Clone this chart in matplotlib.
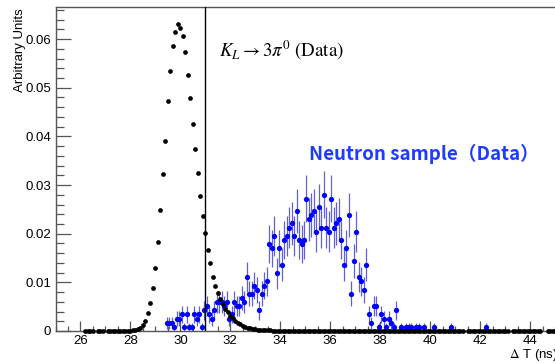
import numpy as np
import matplotlib
matplotlib.use("Agg")
import matplotlib.pyplot as plt
from matplotlib.ticker import MultipleLocator, FixedLocator

# K_L -> 3pi0 data, bin centres every 0.1 ns starting at 26.2 (nan = empty bin, not drawn)
nan = np.nan
black_start = 26.2
black_y = [
    0, 0, 0, 0, nan, 0, 0, 0,                                                        # 26.2-26.9
    nan, 0, 0, 0, 0, 0, 0, 0, 0, 0,                                                  # 27
    0, 0.0001, 0.0002, 0.0004, 0.0007, 0.0012, 0.0021, 0.0037, 0.0058, 0.0088,       # 28
    0.0130, 0.0183, 0.0248, 0.0322, 0.0391, 0.0472, 0.0534, 0.0585, 0.0615, 0.0632,  # 29
    0.0623, 0.0606, 0.0573, 0.0526, 0.0478, 0.0426, 0.0375, 0.0325, 0.0277, 0.0236,  # 30
    0.0201, 0.0167, 0.0139, 0.0112, 0.0092, 0.0079, 0.0065, 0.0055, 0.0046, 0.0038,  # 31
    0.0031, 0.0026, 0.0021, 0.0017, 0.0014, 0.0011, 0.0009, 0.0007, 0.0006, 0.0005,  # 32
    0.0004, 0.0003, 0.0003, 0.0002, 0.0002, 0.0001, 0.0001, 0, 0, 0,                 # 33
    0, 0, 0, 0, 0, 0, 0, 0, 0, 0,                                                    # 34
    0, 0, 0, 0, 0, 0, 0, 0, 0, 0,                                                    # 35
    0, 0, 0, 0, 0, 0, 0, 0, 0, 0,                                                    # 36
    0, 0, 0, 0, 0, 0, 0, 0, 0, 0,                                                    # 37
    0, 0, 0, 0, 0, 0, 0, 0, 0, 0,                                                    # 38
    0, 0, 0, 0, 0, 0, 0, 0, 0, 0,                                                    # 39
    0, 0, 0, 0, 0, 0, 0, 0, 0, 0,                                                    # 40
    0, 0, 0, 0, nan, 0, 0, 0, 0, 0,                                                  # 41
    0, 0, 0, 0, 0, 0, 0, 0, 0, 0,                                                    # 42
    0, 0, nan, 0, 0, 0, 0, 0, 0, 0,                                                  # 43
    0, 0, 0, 0, 0, nan, nan, 0, 0, 0,                                                # 44
    0,                                                                               # 45
]

# neutron sample: event counts per 0.1 ns bin starting at 29.45, scaled to arbitrary units
blue_start = 29.45
blue_counts = [
    2, 2, 2, 1, 3, 3, 4, 1, 4, 1,
    1, 4, 3, 4, 1, 5, 6, 4, 3, 5,
    7, 7, 7, 6, 7, 3, 4, 7, 6, 6,
    8, 7, 13, 9, 9, 11, 10, 5, 9, 11,
    12, 21, 20, 23, 14, 20, 16, 22, 23, 25,
    26, 23, 29, 22, 21, 22, 32, 27, 28, 29,
    24, 30, 25, 33, 25, 24, 32, 25, 26, 27,
    22, 16, 20, 28, 9, 17, 24, 13, 12, 10,
    16, 4, 2, 6, 6, 1, 4, 3, 1, 3,
    2, 1, 5, 0, 1, 0, 1, 1, 1, 0,
    1, 1, 0, 1, 0, 0, 0, 1, 0, 0,
    0, 0, 0, 0, 1, 0, 0, 0, 0, 0,
    0, 0, 0, 0, 0, 0, 0, 0, 1, 0,
]
blue_unit = 0.00085

cut_position = 31.0

black_x = black_start + 0.1 * np.arange(len(black_y))
black_y = np.array(black_y, dtype=float)

counts = np.array(blue_counts, dtype=float)
blue_x = blue_start + 0.1 * np.arange(len(counts))
keep = counts > 0
blue_x = blue_x[keep]
blue_y = counts[keep] * blue_unit
blue_err = np.sqrt(counts[keep]) * blue_unit

plt.rcParams['font.family'] = ['Liberation Sans', 'DejaVu Sans']
plt.rcParams['mathtext.fontset'] = 'stix'

fig = plt.figure(figsize=(5.55, 3.63), dpi=100)
ax = fig.add_axes([0.1, 0.0882, 0.9, 0.8925])

# neutron sample with error bars
ax.errorbar(blue_x, blue_y, yerr=blue_err, fmt='o', color='#0000ff', ms=3.8,
            ecolor='#6060dc', elinewidth=0.9, capsize=0, mew=0, zorder=3)
# K_L data
ax.plot(black_x, black_y, 'o', color='black', ms=3.4, mew=0, zorder=4, clip_on=False)

ax.axvline(cut_position, color='black', lw=1.0, zorder=5)

ax.set_xlim(25, 45)
ax.set_ylim(0, 0.0666)

ax.xaxis.set_major_locator(FixedLocator(np.arange(26, 45, 2)))
ax.xaxis.set_minor_locator(MultipleLocator(0.5))
ax.yaxis.set_major_locator(MultipleLocator(0.01))
ax.yaxis.set_minor_locator(MultipleLocator(0.002))
ax.yaxis.set_major_formatter(matplotlib.ticker.FuncFormatter(
    lambda v, p: '0' if abs(v) < 1e-9 else f'{v:.2f}'))

ax.tick_params(axis='both', which='both', direction='in', colors='#555555',
               labelcolor='black', labelsize=9.5)
ax.tick_params(axis='y', which='major', length=11, width=0.9, pad=3)
ax.tick_params(axis='y', which='minor', length=5.5, width=0.9)
ax.tick_params(axis='x', which='major', length=7, width=0.9, pad=3)
ax.tick_params(axis='x', which='minor', length=3.5, width=0.9)

for side in ['left', 'bottom', 'top']:
    ax.spines[side].set_color('#555555')
    ax.spines[side].set_linewidth(1.0)
ax.spines['right'].set_visible(False)

fig.text(0.036, 0.978, 'Arbitrary Units', rotation=90, ha='center', va='top', fontsize=9.5)
fig.text(1.006, 1 - 358 / 363, r'$\Delta$ T (ns)', ha='right', va='baseline', fontsize=9.5)

ax.text(219 / 555, 1 - 57 / 363, r'$K_L \rightarrow 3\pi^0$ (Data)', transform=fig.transFigure,
        fontsize=13.5, family='STIXGeneral', ha='left', va='baseline')
ax.text(309 / 555, 1 - 160 / 363, 'Neutron sample（Data）', transform=fig.transFigure,
        fontsize=13.5, family=['Noto Sans CJK JP', 'DejaVu Sans'], fontweight='bold',
        color='#1e3cff', ha='left', va='baseline')

fig.savefig('out.png', dpi=100)
